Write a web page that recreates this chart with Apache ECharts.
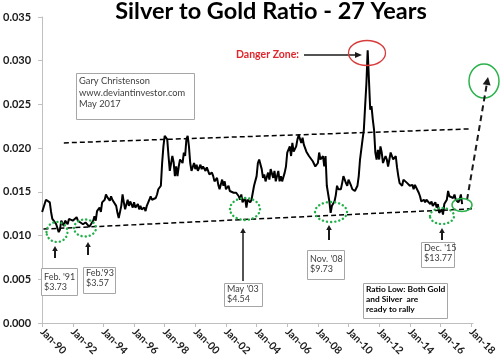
<!DOCTYPE html>
<html><head><meta charset="utf-8">
<script src="https://cdn.jsdelivr.net/npm/echarts@6/dist/echarts.min.js"></script>
<style>html,body{margin:0;padding:0;background:#fff}#c{width:500px;height:361px}</style>
</head><body><div id="c"></div>
<script>
// ---- data (month, silver/gold ratio) ----
const months = [
'1990-01','1990-04','1990-07','1990-08','1990-09','1990-12','1991-02','1991-03','1991-04','1991-06','1991-07','1991-09','1991-10',
'1992-01','1992-04','1992-05','1992-09','1992-11','1993-02','1993-05','1993-06','1993-07','1993-08','1993-10','1993-11','1993-12',
'1994-02','1994-03','1994-04','1994-06','1994-07','1994-08','1994-11','1994-12','1995-01','1995-03','1995-04','1995-05','1995-06',
'1995-08','1995-09','1995-10','1995-12','1996-01','1996-02','1996-04','1996-05','1996-06','1996-07','1996-09','1996-10','1996-11',
'1997-01','1997-02','1997-03','1997-04','1997-06','1997-07','1997-08','1997-10','1997-11','1997-12','1998-01','1998-02','1998-03',
'1998-04','1998-05','1998-07','1998-08','1998-09','1998-10','1998-11','1998-12','1999-01','1999-03','1999-04','1999-05','1999-06',
'1999-07','1999-08','1999-09','1999-10','1999-12','2000-01','2000-02','2000-03','2000-05','2000-06','2000-07','2000-09','2000-10',
'2000-11','2000-12','2001-02','2001-03','2001-04','2001-06','2001-07','2001-08','2001-10','2001-11','2001-12','2002-01','2002-03',
'2002-04','2002-05','2002-07','2002-08','2002-09','2002-11','2002-12','2003-01','2003-02','2003-04','2003-05','2003-06','2003-08',
'2003-09','2003-10','2003-11','2004-01','2004-02','2004-03','2004-05','2004-06','2004-07','2004-08','2004-10','2004-11','2004-12',
'2005-02','2005-03','2005-04','2005-06','2005-07','2005-08','2005-09','2005-11','2005-12','2006-01','2006-03','2006-04','2006-05',
'2006-06','2006-08','2006-09','2006-10','2006-12','2007-01','2007-02','2007-04','2007-05','2007-06','2007-07','2007-09','2007-10',
'2007-11','2008-01','2008-02','2008-03','2008-05','2008-06','2008-07','2008-08','2008-10','2008-11','2008-12','2009-02','2009-03',
'2009-04','2009-05','2009-07','2009-08','2009-09','2009-11','2009-12','2010-01','2010-03','2010-04','2010-05','2010-06','2010-08',
'2010-09','2010-10','2010-12','2011-01','2011-02','2011-03','2011-04','2011-05','2011-06','2011-07','2011-08','2011-09','2011-10',
'2011-11','2011-12','2012-01','2012-02','2012-03','2012-04','2012-06','2012-07','2012-08','2012-10','2012-11','2012-12','2013-02',
'2013-03','2013-04','2013-05','2013-07','2013-08','2013-09','2013-11','2013-12','2014-01','2014-03','2014-04','2014-05','2014-06',
'2014-08','2014-09','2014-10','2014-12','2015-01','2015-02','2015-03','2015-05','2015-06','2015-07','2015-09','2015-10','2015-11',
'2015-12','2016-02','2016-03','2016-04','2016-06','2016-07','2016-08','2016-09','2016-11','2016-12','2017-01','2017-03','2017-04',
'2017-05','2017-06'];
const ratio = [
0.0127,0.0141,0.0138,0.0127,0.0119,0.0113,0.0104,0.0107,0.0117,0.0111,0.0117,0.0113,0.0119,
0.0117,0.0121,0.0117,0.0113,0.0115,0.0110,0.0117,0.0122,0.0117,0.0128,0.0132,0.0127,0.0138,
0.0141,0.0147,0.0144,0.0140,0.0145,0.0141,0.0134,0.0126,0.0120,0.0134,0.0147,0.0138,0.0130,
0.0141,0.0134,0.0139,0.0132,0.0138,0.0132,0.0136,0.0130,0.0134,0.0130,0.0132,0.0128,0.0134,
0.0141,0.0145,0.0141,0.0139,0.0143,0.0147,0.0153,0.0157,0.0183,0.0202,0.0214,0.0215,0.0210,
0.0191,0.0174,0.0191,0.0184,0.0168,0.0179,0.0168,0.0179,0.0187,0.0183,0.0195,0.0191,0.0210,
0.0214,0.0202,0.0183,0.0174,0.0183,0.0176,0.0181,0.0174,0.0181,0.0176,0.0179,0.0174,0.0178,
0.0176,0.0170,0.0172,0.0168,0.0162,0.0166,0.0158,0.0153,0.0164,0.0157,0.0162,0.0153,0.0157,
0.0151,0.0153,0.0149,0.0147,0.0149,0.0145,0.0141,0.0147,0.0138,0.0143,0.0132,0.0141,0.0138,
0.0141,0.0141,0.0157,0.0168,0.0183,0.0187,0.0176,0.0166,0.0170,0.0162,0.0172,0.0164,0.0176,
0.0166,0.0174,0.0162,0.0174,0.0162,0.0168,0.0162,0.0172,0.0179,0.0195,0.0202,0.0191,0.0206,
0.0196,0.0202,0.0210,0.0215,0.0206,0.0212,0.0204,0.0196,0.0198,0.0191,0.0193,0.0185,0.0187,
0.0179,0.0183,0.0195,0.0187,0.0191,0.0179,0.0191,0.0157,0.0139,0.0126,0.0134,0.0139,0.0146,
0.0157,0.0153,0.0153,0.0160,0.0168,0.0160,0.0157,0.0164,0.0157,0.0153,0.0155,0.0151,0.0157,
0.0168,0.0187,0.0210,0.0221,0.0248,0.0274,0.0312,0.0278,0.0244,0.0248,0.0233,0.0221,0.0195,
0.0187,0.0198,0.0187,0.0202,0.0195,0.0183,0.0191,0.0187,0.0179,0.0195,0.0191,0.0187,0.0191,
0.0178,0.0168,0.0160,0.0157,0.0164,0.0166,0.0160,0.0162,0.0157,0.0158,0.0153,0.0158,0.0157,
0.0149,0.0145,0.0139,0.0141,0.0138,0.0141,0.0139,0.0136,0.0139,0.0134,0.0138,0.0132,0.0136,
0.0126,0.0130,0.0124,0.0136,0.0141,0.0151,0.0145,0.0147,0.0143,0.0147,0.0141,0.0138,0.0141,
0.0147,0.0136];
const xTickYears = [1990,1992,1994,1996,1998,2000,2002,2004,2006,2008,2010,2012,2014,2016,2018];
const yTicks = [0,0.005,0.010,0.015,0.020,0.025,0.030,0.035];
const trendUpper = [['1991-06',0.0206],['2017-12',0.0222]];
const trendLower = [['1990-02',0.01075],['2019-03',0.01315]];
const titleText = 'Silver to Gold Ratio - 27 Years';
const creditLines = ['Gary Christenson','www.deviantinvestor.com','May 2017'];
const lowLabels = [["Feb. '91",'$3.73'],["Feb.'93",'$3.57'],["May '03",'$4.54'],["Nov. '08",'$9.73'],["Dec. '15",'$13.77']];
const noteLines = ['Ratio Low: Both Gold','and Silver  are','ready to rally'];

const toYear = s => +s.slice(0,4) + (+s.slice(5,7) - 1) / 12;
const lineData = months.map((m,i) => [toYear(m), ratio[i]]);

const FONT = 'Lato, "Open Sans", sans-serif';
const G = [];
function txt(x,y,t,o){ o=o||{}; G.push({type:'text',x:x,y:y,z:100,style:{text:t,fill:o.fill||'#404040',
  font:(o.bold?'bold ':'')+(o.size||9)+'px '+FONT,align:o.align||'left',verticalAlign:'middle',
  textAlign:o.align||'left',textVerticalAlign:'middle'}}); }
function box(x,y,w,h){ G.push({type:'rect',z:99,shape:{x:x+0.5,y:y+0.5,width:w,height:h},style:{fill:'#fff',stroke:'#a6a6a6',lineWidth:1}}); }
function arrow(x1,y1,x2,y2,o){ o=o||{}; const ang=Math.atan2(y2-y1,x2-x1), L=o.head||6, W=o.hw||3.2;
  const bx=x2-L*Math.cos(ang), by=y2-L*Math.sin(ang);
  G.push({type:'line',z:100,shape:{x1:x1,y1:y1,x2:bx,y2:by},style:{stroke:o.color||'#1a1a1a',lineWidth:o.w||2,lineDash:o.dash||null}});
  G.push({type:'polygon',z:100,shape:{points:[[x2,y2],[bx-W*Math.sin(ang),by+W*Math.cos(ang)],[bx+W*Math.sin(ang),by-W*Math.cos(ang)]]},style:{fill:o.color||'#1a1a1a'}}); }
function ell(cx,cy,rx,ry,o){ G.push({type:'ellipse',z:100,shape:{cx:cx,cy:cy,rx:rx,ry:ry},style:{fill:'none',stroke:o.color,lineWidth:o.w||1.5,lineDash:o.dash||null,lineCap:o.cap||'butt'}}); }

// title
txt(271,11,titleText,{bold:true,size:23.5,fill:'#000',align:'center'});
// credit box
box(76,73,118,46);
creditLines.forEach((l,i)=>txt(79,81+i*11.5,l,{size:9.3}));
// danger zone
txt(236,55,'Danger Zone:',{bold:true,size:10.5,fill:'#e0262c'});
arrow(304,55,362,55,{w:1.5,head:7,hw:3});
ell(367,53,18.5,12.5,{color:'#d83b3b',w:1.3});
// big green circle + dashed rising arrow
ell(484,81,15,17,{color:'#2bb24c',w:1.5});
arrow(467,200,488,77,{w:2,dash:[6,4],head:8,hw:4});
// dotted green circles around lows
const dot={color:'#22b04a',w:2.4,dash:[0.1,4],cap:'round'};
ell(57,232,10.5,10,dot); ell(85,228,11,8.5,dot); ell(245,209,15,11,dot); ell(331,212,16,10,dot); ell(442,216,12,8,dot);
ell(462,205,10,6.5,{color:'#2bb24c',w:1.5});
// small up arrows
arrow(55,258,55,246,{w:2,head:5,hw:2.8});
arrow(88,255,88,242,{w:2,head:5,hw:2.8});
arrow(243,281,243,228,{w:1.5,head:5,hw:2.8});
arrow(329,240,329,225,{w:2,head:5,hw:2.8});
arrow(442,240,442,228,{w:2,head:5,hw:2.8});
// low label boxes
const lb=[[41,268,36,27],[83,267,32,26],[224,283,38,23],[307,250,37,29],[421,242,33,25]];
lb.forEach((b,i)=>{ box(b[0],b[1],b[2],b[3]); txt(b[0]+3,b[1]+ (b[3]>26?9:6.5),lowLabels[i][0]); txt(b[0]+3,b[1]+(b[3]>26?19:16.5),lowLabels[i][1]); });
// note box
box(363,283,84,35);
noteLines.forEach((l,i)=>txt(366,289+i*10,l,{bold:true,size:8.4,fill:'#000'}));

const chart = echarts.init(document.getElementById('c'), null, {renderer:'canvas'});
chart.setOption({
  animation:false,
  backgroundColor:'#fff',
  grid:{left:39,right:27,top:17,bottom:38,containLabel:false},
  xAxis:{type:'value',min:1990,max:2018.125,interval:2,
    axisLine:{lineStyle:{color:'#bfbfbf',width:1}},
    axisTick:{show:true,length:4,lineStyle:{color:'#bfbfbf'},customValues:xTickYears},
    axisLabel:{rotate:-45,margin:7,fontSize:10.5,fontWeight:'bold',color:'#1a1a1a',fontFamily:FONT,
      customValues:xTickYears,formatter:v=>'Jan-'+String(Math.round(v)).slice(2)},
    splitLine:{show:false}},
  yAxis:{type:'value',min:0,max:0.035,interval:0.005,
    axisLine:{show:true,lineStyle:{color:'#bfbfbf',width:1}},
    axisTick:{show:true,length:4,lineStyle:{color:'#bfbfbf'}},
    axisLabel:{margin:11,fontSize:11,fontWeight:'bold',color:'#1a1a1a',fontFamily:FONT,formatter:v=>v.toFixed(3)},
    splitLine:{show:false}},
  series:[
    {type:'line',data:lineData,showSymbol:false,lineStyle:{color:'#000',width:2},z:5},
    {type:'line',data:trendUpper.map(p=>[toYear(p[0]),p[1]]),showSymbol:false,clip:false,
      lineStyle:{color:'#000',width:1.5,type:[5,3]},z:4},
    {type:'line',data:trendLower.map(p=>[toYear(p[0]),p[1]]),showSymbol:false,clip:false,
      lineStyle:{color:'#000',width:1.5,type:[5,3]},z:4}
  ],
  graphic:{elements:G}
});
</script></body></html>
